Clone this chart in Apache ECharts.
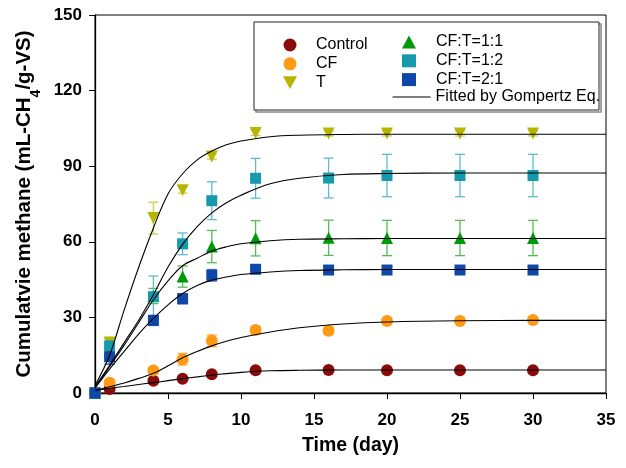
<!DOCTYPE html>
<html>
<head>
<meta charset="utf-8">
<script src="https://cdn.jsdelivr.net/npm/echarts@6/dist/echarts.min.js"></script>
<style>html,body{margin:0;padding:0;background:#fff}#c{width:626px;height:468px}</style>
</head>
<body>
<div id="c"></div>
<script>
// Measured data
const days = [0, 1, 4, 6, 8, 11, 16, 20, 25, 30];
const control   = [0, 1.6, 4.9, 5.7, 7.4, 9.0, 9.1, 9.0, 9.0, 9.0];
const controlErr= [0, 0.3, 0.5, 0.6, 0.6, 0.5, 0.5, 0.5, 0.5, 0.5];
const cf        = [0, 4.1, 8.9, 13.4, 20.7, 25.0, 24.7, 28.6, 28.6, 29.0];
const cfErr     = [0, 0.8, 1.0, 2.3, 2.3, 1.5, 1.5, 1.0, 1.0, 1.0];
const tOnly     = [0, 20, 69.4, 80.5, 93.8, 103.2, 103.0, 103.0, 103.0, 103.0];
const tErr      = [0, 2, 6.3, 1.2, 1.0, 1.0, 1.0, 1.0, 1.0, 1.0];
const cft11     = [0, 16.5, 38.5, 46.2, 58.1, 61.4, 61.6, 61.5, 61.5, 61.5];
const cft11Err  = [0, 5, 3, 4.2, 6.4, 7, 7, 7, 7, 7];
const cft12     = [0, 18.7, 38.2, 59.2, 76.3, 85.2, 85.3, 86.3, 86.3, 86.3];
const cft12Err  = [0, 3, 8.2, 4.3, 7.5, 7.9, 7.9, 8.4, 8.4, 8.4];
const cft21     = [0, 14.4, 28.8, 37.4, 46.7, 49.1, 48.8, 48.8, 48.8, 48.8];
const cft21Err  = [0, 3, 2, 2, 2.3, 1.5, 1.2, 1.2, 1.2, 1.2];

// Fitted (Gompertz) curves
const fitDays    = [0, 1, 2, 3, 4, 5, 6, 7, 8, 9, 10, 12, 14, 17, 20, 25, 30, 35];
const fitT       = [3, 15, 33, 50, 65.5, 79, 87, 92.5, 96, 98.5, 100, 101.7, 102.3, 102.6, 102.7, 102.7, 102.7, 102.7];
const fit12      = [2.5, 11, 20, 29, 39, 50, 59, 66, 71.5, 75.5, 78.5, 83, 85.2, 86.7, 87.1, 87.3, 87.3, 87.3];
const fit11      = [2, 10.5, 19, 28, 37, 44.5, 50.5, 53.5, 56.3, 58, 59.2, 60.4, 61, 61.2, 61.3, 61.3, 61.3, 61.3];
const fit21      = [2, 9.5, 16.5, 23.5, 29.6, 35, 39.5, 42.7, 44.8, 46, 47, 48, 48.6, 48.9, 49, 49, 49, 49];
const fitCF      = [1, 2.5, 4, 5.8, 7.8, 10.8, 14, 16.5, 18.7, 20.5, 22, 24.2, 25.9, 27.4, 28.2, 28.7, 28.8, 28.8];
const fitControl = [1, 1.9, 2.6, 3.4, 4.1, 4.9, 5.7, 6.4, 7.1, 7.7, 8.2, 8.8, 9.0, 9.1, 9.1, 9.1, 9.1, 9.1];

const xTicks = [0, 5, 10, 15, 20, 25, 30, 35];
const yTicks = [0, 30, 60, 90, 120, 150];

const FONT = 'Liberation Sans, Arial, sans-serif';
const DOWN_TRI = 'path://M0,0 L10,0 L5,9 Z';

const groups = [
  {name: 'Control',   vals: control, errs: controlErr, color: '#8b0b0b', err: '#a03030', symbol: 'circle', size: 12},
  {name: 'CF',        vals: cf,      errs: cfErr,      color: '#ff9a12', err: '#ffa838', symbol: 'circle', size: 12},
  {name: 'T',         vals: tOnly,   errs: tErr,       color: '#b6b600', err: '#cccc55', symbol: DOWN_TRI, size: 12},
  {name: 'CF:T=1:1',  vals: cft11,   errs: cft11Err,   color: '#00990a', err: '#55bb55', symbol: 'triangle', size: 12},
  {name: 'CF:T=1:2',  vals: cft12,   errs: cft12Err,   color: '#1698ad', err: '#5cbccb', symbol: 'rect', size: 11},
  {name: 'CF:T=2:1',  vals: cft21,   errs: cft21Err,   color: '#0d47a8', err: '#4070c0', symbol: 'rect', size: 11}
];
const fits = [fitControl, fitCF, fitT, fit11, fit12, fit21];

const series = [];
groups.forEach(g => {
  series.push({
    type: 'custom', name: g.name + ' err', z: 1, silent: true,
    data: days.map((d, i) => [d, g.vals[i], g.errs[i]]).filter(p => p[2] > 0),
    renderItem: (params, api) => {
      const x = api.value(0), y = api.value(1), e = api.value(2);
      const top = api.coord([x, y + e]);
      const bot = api.coord([x, y - e]);
      const hw = 5;
      const st = {stroke: g.err, lineWidth: 1.3};
      return {type: 'group', children: [
        {type: 'line', shape: {x1: top[0], y1: top[1], x2: bot[0], y2: bot[1]}, style: st},
        {type: 'line', shape: {x1: top[0] - hw, y1: top[1], x2: top[0] + hw, y2: top[1]}, style: st},
        {type: 'line', shape: {x1: bot[0] - hw, y1: bot[1], x2: bot[0] + hw, y2: bot[1]}, style: st}
      ]};
    }
  });
});
groups.forEach(g => {
  series.push({
    type: 'scatter', name: g.name, z: 2,
    symbol: g.symbol, symbolSize: g.size,
    itemStyle: {color: g.color, opacity: 1},
    data: days.map((d, i) => [d, g.vals[i]])
  });
});
fits.forEach(f => {
  series.push({
    type: 'line', name: 'Fitted by Gompertz Eq.', z: 3,
    smooth: 0.35, showSymbol: false, symbol: 'none',
    lineStyle: {color: '#000', width: 1.1},
    itemStyle: {color: '#000'},
    data: fitDays.map((d, i) => [d, f[i]])
  });
});

const legendText = {fontFamily: FONT, fontSize: 16, color: '#000', lineHeight: 16};
const chart = echarts.init(document.getElementById('c'));
chart.setOption({
  animation: false,
  backgroundColor: '#fff',
  grid: {left: 95, right: 20, top: 15, bottom: 75, show: true, borderColor: '#000', borderWidth: 1},
  legend: [
    {data: ['Control', 'CF', {name: 'T', icon: DOWN_TRI}], orient: 'vertical', left: 283, top: 37, padding: 0, z: 10,
     itemWidth: 14, itemHeight: 13, itemGap: 2.8, selectedMode: false, itemStyle: {opacity: 1},
     textStyle: Object.assign({padding: [0, 0, 0, 14]}, legendText)},
    {data: ['CF:T=1:1', 'CF:T=1:2', 'CF:T=2:1'], orient: 'vertical', left: 402, top: 34, padding: 0, z: 10,
     itemWidth: 14, itemHeight: 13, itemGap: 2.8, selectedMode: false, itemStyle: {opacity: 1},
     textStyle: Object.assign({padding: [0, 0, 0, 15]}, legendText)},
    {data: ['Fitted by Gompertz Eq.'], orient: 'vertical', left: 392, top: 89, padding: 0, z: 10,
     itemWidth: 38, itemHeight: 13, textStyle: legendText, selectedMode: false,
     itemStyle: {opacity: 0}, lineStyle: {color: '#000', width: 1.2}}
  ],
  graphic: [
    {type: 'rect', shape: {x: 256, y: 24, width: 345, height: 88}, style: {fill: 'none', stroke: '#888', lineWidth: 1.5}, z: 4},
    {type: 'rect', shape: {x: 254, y: 22, width: 345, height: 88}, style: {fill: '#fff', stroke: '#222', lineWidth: 1}, z: 5}
  ],
  xAxis: {
    type: 'value', min: 0, max: 35, interval: 5,
    name: 'Time (day)', nameLocation: 'middle', nameGap: 43,
    nameTextStyle: {fontFamily: FONT, fontSize: 19.5, fontWeight: 'bold', color: '#000'},
    axisLine: {lineStyle: {color: '#000', width: 1.3}},
    axisTick: {show: true, inside: false, length: 6, lineStyle: {color: '#000', width: 1}},
    axisLabel: {fontFamily: FONT, fontSize: 17, fontWeight: 'bold', color: '#000', margin: 19,
                formatter: v => xTicks.includes(v) ? String(v) : ''},
    splitLine: {show: false}
  },
  yAxis: {
    type: 'value', min: 0, max: 150, interval: 30,
    name: '{a|Cumulatvie methane (mL-CH}{s|4}{a|/g-VS)}', nameLocation: 'middle', nameGap: 55, nameRotate: 90,
    nameTextStyle: {rich: {
      a: {fontFamily: FONT, fontSize: 20.5, fontWeight: 'bold', color: '#000'},
      s: {fontFamily: FONT, fontSize: 14, fontWeight: 'bold', color: '#000', verticalAlign: 'bottom', padding: [0, 0, -8, 0]}
    }},
    axisLine: {lineStyle: {color: '#000', width: 1.3}},
    axisTick: {show: true, inside: false, length: 6, lineStyle: {color: '#000', width: 1}},
    axisLabel: {fontFamily: FONT, fontSize: 17, fontWeight: 'bold', color: '#000', margin: 13,
                formatter: v => yTicks.includes(v) ? String(v) : ''},
    splitLine: {show: false}
  },
  series: series
});
</script>
</body>
</html>
